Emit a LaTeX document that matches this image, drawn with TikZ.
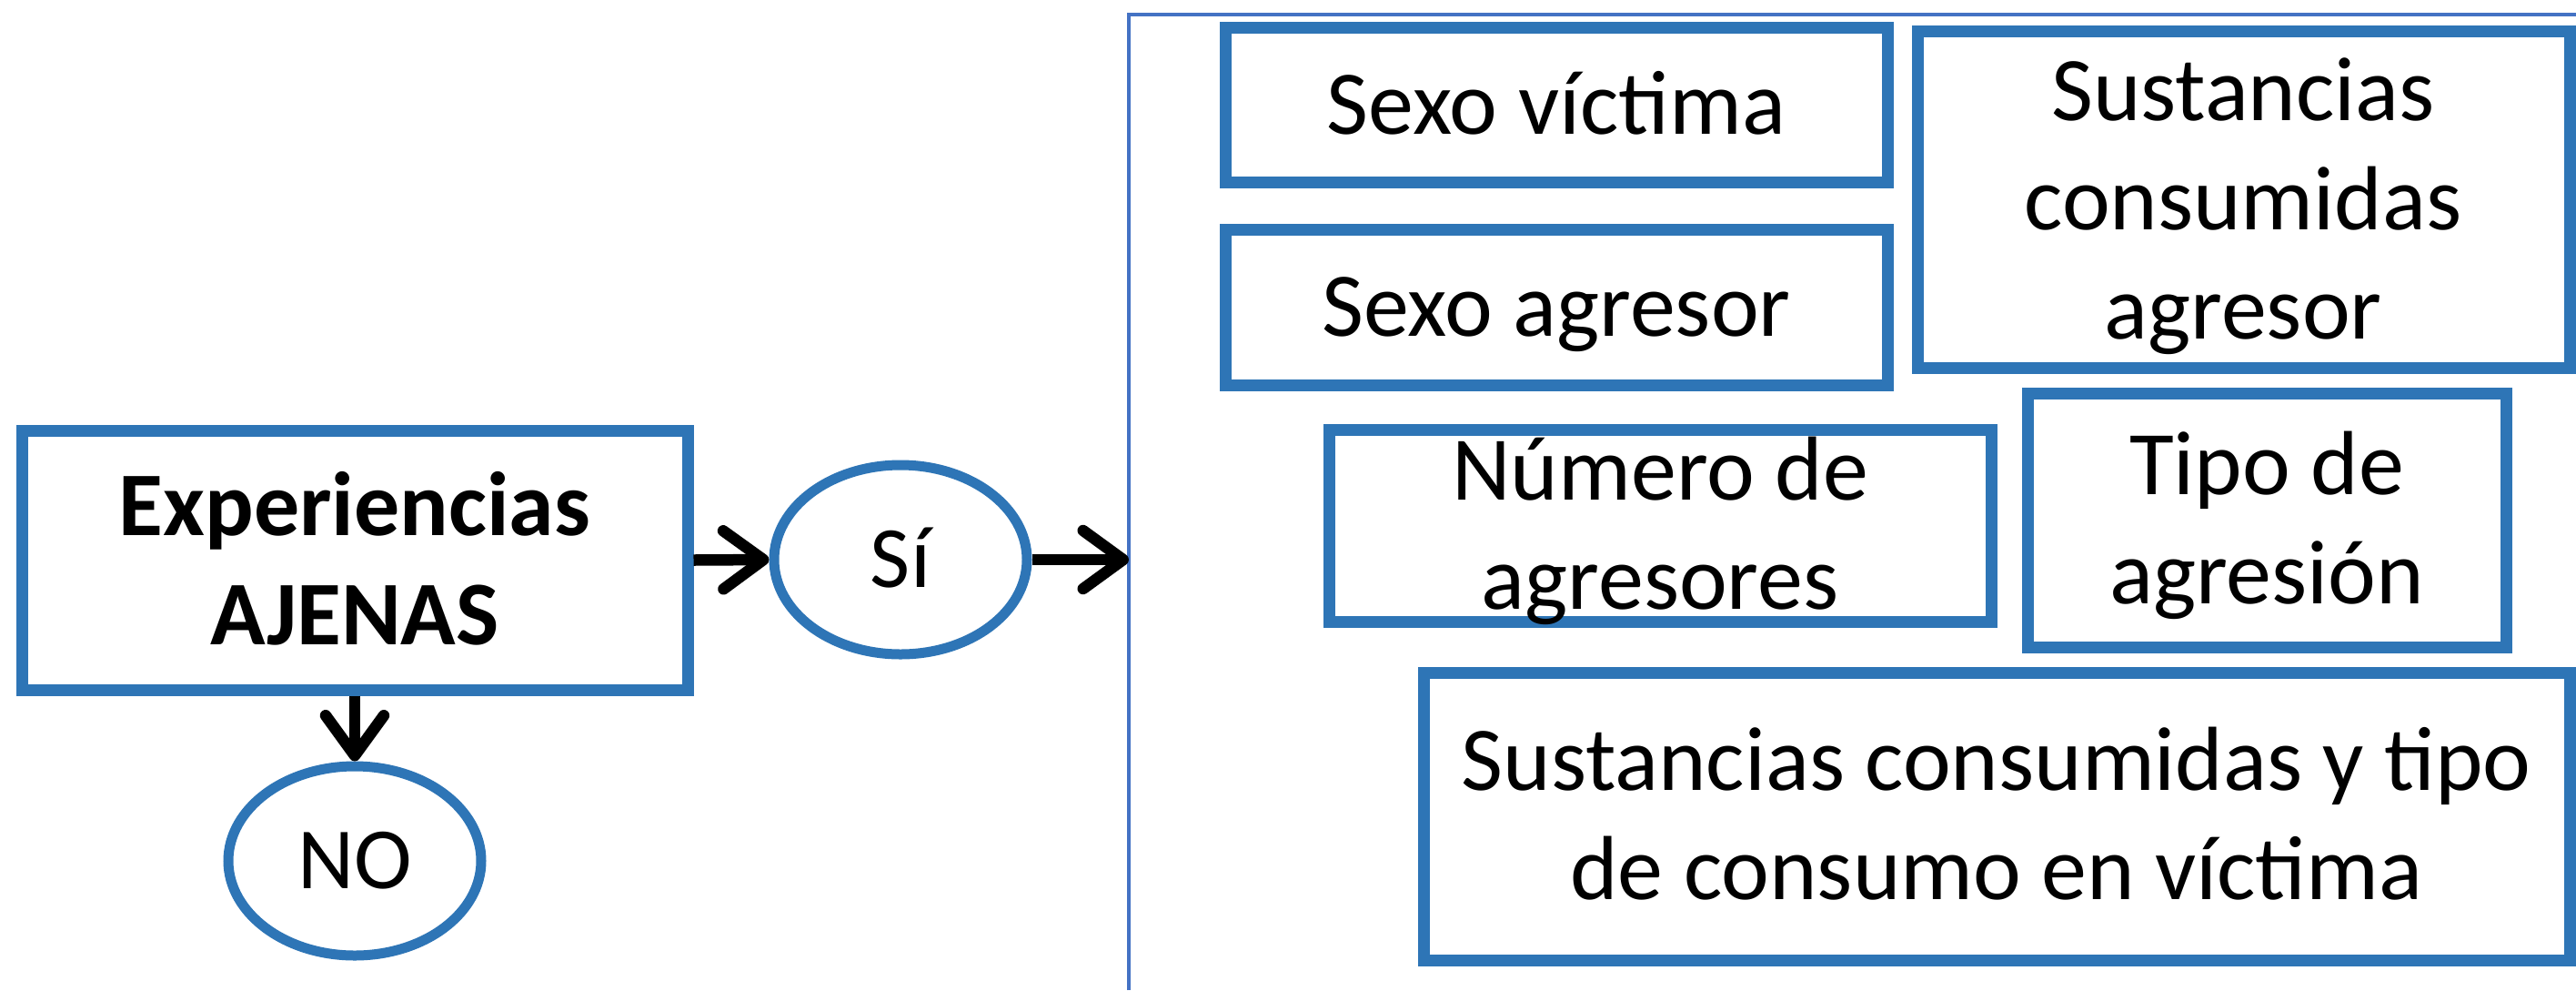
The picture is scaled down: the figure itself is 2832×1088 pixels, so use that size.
\documentclass[tikz,border=0pt]{standalone}
\usepackage{fontspec}
\setmainfont{Carlito}
\usetikzlibrary{shapes.geometric,arrows.meta}
\definecolor{boxblue}{HTML}{2E75B6}
\definecolor{frameblue}{HTML}{4472C4}
\newcommand\topst{\rule{0pt}{88pt}}
\newcommand\botst{\rule[-25pt]{0pt}{25pt}}
\newcommand\topsm{\rule{0pt}{85pt}}
\newcommand\botsm{\rule[-24pt]{0pt}{24pt}}
\begin{document}
\begin{tikzpicture}[x=1pt,y=-1pt,
  bx/.style={draw=boxblue,line width=13pt,inner sep=0pt,rectangle},
  ov/.style={draw=boxblue,line width=11pt,inner sep=0pt,ellipse,minimum width=278pt,minimum height=208pt,font=\fontsize{96}{115}\selectfont},
  txt/.style={align=center,inner sep=0pt,font=\fontsize{100}{120}\selectfont},
  arr/.style={line width=12.5pt,-{Straight Barb[length=44pt,width=64pt,round]}},
  fr/.style={draw=frameblue,line width=4pt}]
\useasboundingbox[fill=white] (0,0) rectangle (2832,1088);
% frame
\draw[fr] (1241,1088) -- (1241,15.5) -- (2832,15.5);
\coordinate (fl) at (1241,615);
% boxes
\node[bx,minimum width=732pt,minimum height=285pt] (exp) at (390,615.5) {};
\node[bx,minimum width=728pt,minimum height=170pt] (sv) at (1711,115) {};
\node[bx,minimum width=728pt,minimum height=171pt] (sa) at (1711,337.5) {};
\node[bx,minimum width=717pt,minimum height=370pt] (sca) at (2466.5,219) {};
\node[bx,minimum width=728pt,minimum height=211pt] (num) at (1825,577.5) {};
\node[bx,minimum width=526pt,minimum height=279pt] (tipo) at (2492,571.5) {};
\node[bx,minimum width=1260pt,minimum height=316pt] (scv) at (2195,897) {};
% ellipses
\node[ov] (si) at (990,615) {\topsm Sí\botsm};
\node[ov] (no) at (390,946) {\topsm NO\botsm};
% texts
\node[txt,font={\fontsize{100}{120}\selectfont\bfseries}] (t-exp) at (390,617) {\topst Experiencias\\AJENAS\botst};
\node[txt] (t-sv) at (1711,116) {\topst Sexo víctima\botst};
\node[txt] (t-sa) at (1711,338) {\topst Sexo agresor\botst};
\node[txt] (t-sca) at (2466,221) {\topst Sustancias\\consumidas\\agresor\botst};
\node[txt] (t-num) at (1825,578) {\topst Número de\\agresores\botst};
\node[txt] (t-tipo) at (2492,572) {\topst Tipo de\\agresión\botst};
\node[txt] (t-scv) at (2195,897) {\topst Sustancias consumidas y tipo\\de consumo en víctima\botst};
% arrows
\draw[arr] (exp.east) -- (si.west);
\draw[arr] (si.east) -- (fl);
\draw[arr] (exp.south) -- (no.north);
\end{tikzpicture}
\end{document}
